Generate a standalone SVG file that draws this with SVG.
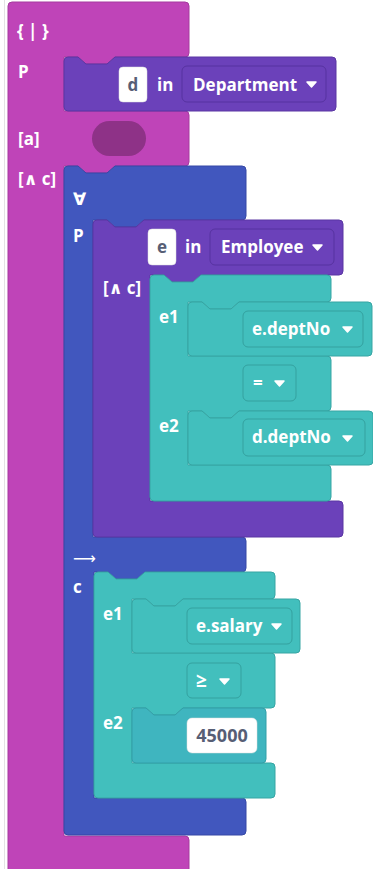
<svg xmlns="http://www.w3.org/2000/svg" width="373" height="869" viewBox="0 0 373 869">
<style>
text{font-family:"Open Sans","Noto Sans","DejaVu Sans",sans-serif;font-weight:bold;font-size:17px}
.lbl{fill:#ffffff}
.fld{fill:#575E75}
.mid{text-anchor:middle}
.mag{fill:#BF44B8;stroke:#A63A9F;stroke-width:1}
.pur{fill:#6B41BA;stroke:#5A36A3;stroke-width:1}
.blu{fill:#4157BE;stroke:#3649A6;stroke-width:1}
.tea{fill:#42BFBD;stroke:#36A5A3;stroke-width:1}
.num{fill:#3FB5BF;stroke:#339FA8;stroke-width:1}
.ddp{fill:#6B41BA;stroke:#5733A0;stroke-width:1}
.ddt{fill:#42BFBD;stroke:#34A19F;stroke-width:1}
.wf{fill:#ffffff;stroke:#dddddd;stroke-width:0.5}
.tri{fill:#ffffff;stroke:#ffffff;stroke-width:1.5;stroke-linejoin:round}
</style>
<line x1="4.5" y1="0" x2="4.5" y2="869" stroke="#e3e3e3" stroke-width="1"/>
<g id="setBuilder">
<path class="mag" d="M8,6 q0,-4 4,-4 H185 q4,0 4,4 V53 q0,4 -4,4 H115 L107,64 H86 L78,57 H64 V111 H185 q4,0 4,4 V162 q0,4 -4,4 H115 L107,173 H86 L78,166 H64 V836 H185 q4,0 4,4 V880 H8 Z"/>
<text class="lbl" x="17" y="37">{ | }</text>
<text class="lbl" x="18" y="78">P</text>
<text class="lbl" x="18" y="145">[a]</text>
<text class="lbl" x="18" y="185">[∧ c]</text>
<rect x="92" y="121" width="54" height="35" rx="17.5" fill="#8E3287"/>
</g>
<g id="dInDepartment">
<path class="pur" d="M64,61 q0,-4 4,-4 H78 L86,64 H107 L115,57 H332 q4,0 4,4 V107 q0,4 -4,4 H68 q-4,0 -4,-4 Z"/>
<rect class="wf" x="119" y="67" width="28" height="35" rx="4"/>
<text class="fld mid" x="133" y="91">d</text>
<text class="lbl" x="157" y="91">in</text>
<rect class="ddp" x="182" y="66" width="144" height="36" rx="5"/>
<text class="lbl" x="193" y="91">Department</text>
<path class="tri" d="M307,82 h9 l-4.5,5 z"/>
</g>
<g id="forAll">
<path class="blu" d="M64,170 q0,-4 4,-4 H78 L86,173 H107 L115,166 H242 q4,0 4,4 V216 q0,4 -4,4 H144 L136,227 H115 L107,220 H93 V537 H242 q4,0 4,4 V568 q0,4 -4,4 H145 L137,579 H116 L108,572 H94 V798 H242 q4,0 4,4 V831 q0,4 -4,4 H68 q-4,0 -4,-4 Z"/>
<text class="lbl" x="73" y="205">∀</text>
<text class="lbl" x="73" y="242">P</text>
<text class="lbl" x="73" y="564" style="font-family:'DejaVu Sans',sans-serif;font-weight:normal;font-size:16px">⟶</text>
<text class="lbl" x="73" y="593">c</text>
</g>
<g id="eInEmployee">
<path class="pur" d="M93,224 q0,-4 4,-4 H107 L115,227 H136 L144,220 H339 q4,0 4,4 V271 q0,4 -4,4 H201 L193,282 H172 L164,275 H150 V501 H339 q4,0 4,4 V533 q0,4 -4,4 H97 q-4,0 -4,-4 Z"/>
<text class="lbl" x="103" y="294">[∧ c]</text>
<rect class="wf" x="148" y="229" width="28" height="36" rx="4"/>
<text class="fld mid" x="162" y="253">e</text>
<text class="lbl" x="185" y="253">in</text>
<rect class="ddp" x="210" y="229" width="124" height="36" rx="5"/>
<text class="lbl" x="221" y="253">Employee</text>
<path class="tri" d="M313,245 h9 l-4.5,5 z"/>
</g>
<g id="compare1">
<path class="tea" d="M150,279 q0,-4 4,-4 H164 L172,282 H193 L201,275 H327 q4,0 4,4 V298 q0,4 -4,4 H239 L231,309 H210 L202,302 H188 V356 H327 q4,0 4,4 V407 q0,4 -4,4 H239 L231,418 H210 L202,411 H188 V465 H327 q4,0 4,4 V497 q0,4 -4,4 H154 q-4,0 -4,-4 Z"/>
<text class="lbl" x="159" y="323">e1</text>
<text class="lbl" x="159" y="432">e2</text>
<rect class="ddt" x="243" y="365" width="53" height="36" rx="5"/>
<text class="lbl" x="253" y="389">=</text>
<path class="tri" d="M275,381 h9 l-4.5,5 z"/>
</g>
<g id="eDeptNo">
<path class="tea" d="M188,306 q0,-4 4,-4 H202 L210,309 H231 L239,302 H368 q4,0 4,4 V352 q0,4 -4,4 H192 q-4,0 -4,-4 Z"/>
<rect class="ddt" x="243" y="311" width="120" height="36" rx="5"/>
<text class="lbl" x="252" y="335">e.deptNo</text>
<path class="tri" d="M343,327 h9 l-4.5,5 z"/>
</g>
<g id="dDeptNo">
<path class="tea" d="M188,415 q0,-4 4,-4 H202 L210,418 H231 L239,411 H369 q4,0 4,4 V461 q0,4 -4,4 H192 q-4,0 -4,-4 Z"/>
<rect class="ddt" x="243" y="419" width="122" height="37" rx="5"/>
<text class="lbl" x="252" y="443">d.deptNo</text>
<path class="tri" d="M343,436 h9 l-4.5,5 z"/>
</g>
<g id="compare2">
<path class="tea" d="M94,576 q0,-4 4,-4 H108 L116,579 H137 L145,572 H271 q4,0 4,4 V595 q0,4 -4,4 H183 L175,606 H154 L146,599 H132 V653 H271 q4,0 4,4 V704 q0,4 -4,4 H183 L175,715 H154 L146,708 H132 V763 H271 q4,0 4,4 V794 q0,4 -4,4 H98 q-4,0 -4,-4 Z"/>
<text class="lbl" x="103" y="620">e1</text>
<text class="lbl" x="103" y="729">e2</text>
<rect class="ddt" x="187" y="663" width="54" height="35" rx="5"/>
<text class="lbl" x="196" y="687" style="font-size:19px">≥</text>
<path class="tri" d="M220,679 h9 l-4.5,5 z"/>
</g>
<g id="eSalary">
<path class="tea" d="M132,603 q0,-4 4,-4 H146 L154,606 H175 L183,599 H296 q4,0 4,4 V649 q0,4 -4,4 H136 q-4,0 -4,-4 Z"/>
<rect class="ddt" x="187" y="608" width="105" height="36" rx="5"/>
<text class="lbl" x="196" y="632">e.salary</text>
<path class="tri" d="M272,624 h9 l-4.5,5 z"/>
</g>
<g id="num45000">
<path class="num" d="M132,712 q0,-4 4,-4 H146 L154,715 H175 L183,708 H262 q4,0 4,4 V759 q0,4 -4,4 H136 q-4,0 -4,-4 Z"/>
<rect class="wf" x="187" y="718" width="70" height="35" rx="5"/>
<text class="fld mid" x="222" y="742" style="font-size:18px">45000</text>
</g>
<g id="connectors"/>
</svg>
